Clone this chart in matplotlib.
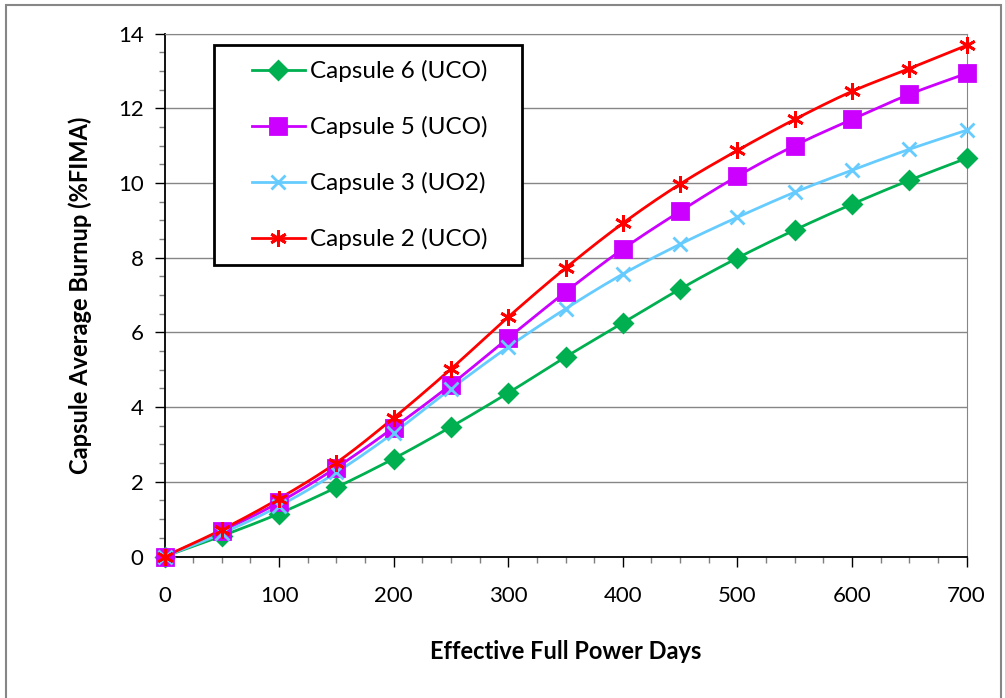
import numpy as np
import matplotlib
matplotlib.use("Agg")
import matplotlib.pyplot as plt
from matplotlib.patches import Rectangle
from matplotlib.ticker import MultipleLocator

plt.rcParams['font.family'] = ['Lato', 'DejaVu Sans']

# Effective full power days
days = [0, 50, 100, 150, 200, 250, 300, 350, 400, 450, 500, 550, 600, 650, 700]

# Capsule average burnup (%FIMA)
capsule6 = [0, 0.55, 1.15, 1.85, 2.62, 3.47, 4.38, 5.34, 6.25, 7.16, 7.99, 8.74, 9.43, 10.07, 10.66]
capsule5 = [0, 0.68, 1.45, 2.38, 3.45, 4.60, 5.85, 7.08, 8.23, 9.24, 10.18, 11.0, 11.70, 12.37, 12.93]
capsule3 = [0, 0.62, 1.35, 2.25, 3.31, 4.49, 5.61, 6.63, 7.56, 8.36, 9.08, 9.75, 10.34, 10.90, 11.41]
capsule2 = [0, 0.72, 1.55, 2.51, 3.71, 5.02, 6.41, 7.72, 8.92, 9.97, 10.87, 11.70, 12.45, 13.06, 13.68]

labels = ["Capsule 6 (UCO)", "Capsule 5 (UCO)", "Capsule 3 (UO2)", "Capsule 2 (UCO)"]


def smooth(x, y, n=12):
    """Catmull-Rom curve through the points, like Excel's smoothed line"""
    x = np.asarray(x, float)
    y = np.asarray(y, float)
    px = np.concatenate([[2 * x[0] - x[1]], x, [2 * x[-1] - x[-2]]])
    py = np.concatenate([[2 * y[0] - y[1]], y, [2 * y[-1] - y[-2]]])
    xs, ys = [], []
    t = np.linspace(0, 1, n, endpoint=False)
    for i in range(1, len(px) - 2):
        for p, out in ((px, xs), (py, ys)):
            p0, p1, p2, p3 = p[i - 1], p[i], p[i + 1], p[i + 2]
            out.extend(0.5 * ((2 * p1) + (-p0 + p2) * t
                              + (2 * p0 - 5 * p1 + 4 * p2 - p3) * t ** 2
                              + (-p0 + 3 * p1 - 3 * p2 + p3) * t ** 3))
    xs.append(x[-1])
    ys.append(y[-1])
    return xs, ys


W, H = 1005, 698
fig = plt.figure(figsize=(W / 100, H / 100), dpi=100)
ax = fig.add_axes([0.1637, 0.2027, 0.798, 0.7493])

series = [
    (capsule6, '#00B050', 'D', 9),
    (capsule5, '#CC00FF', 's', 11),
    (capsule3, '#66CCFF', 'x', 10),
    (capsule2, '#FF0000', (6, 2, 0), 12),
]

handles = []
for (vals, color, marker, ms), label in zip(series, labels):
    sx, sy = smooth(days, vals)
    ax.plot(sx, sy, color=color, lw=2, zorder=3)
    ax.plot(days, vals, ls='none', marker=marker, ms=ms, color=color,
            mec=color, mew=2, zorder=4, clip_on=False)
    h, = ax.plot([], [], color=color, lw=2, marker=marker, ms=ms, mec=color, mew=2)
    h.set_label(label)
    handles.append(h)

ax.set_xlim(0, 700)
ax.set_ylim(0, 14)
ax.xaxis.set_major_locator(MultipleLocator(100))
ax.xaxis.set_minor_locator(MultipleLocator(25))
ax.yaxis.set_major_locator(MultipleLocator(2))
ax.yaxis.set_minor_locator(MultipleLocator(0.5))
ax.tick_params(axis='both', which='major', direction='out', length=7, width=1,
               labelsize=16, color='black')
ax.tick_params(axis='both', which='minor', direction='out', length=4, width=1, color='#7f7f7f')
ax.tick_params(axis='x', pad=14)
ax.tick_params(axis='y', pad=8)
ax.grid(axis='y', which='major', color='#868686', lw=1)
ax.set_axisbelow(True)

for side in ['top', 'right']:
    ax.spines[side].set_color('#868686')
for side in ['left', 'bottom']:
    ax.spines[side].set_color('black')
    ax.spines[side].set_linewidth(1.3)

ax.set_xlabel("Effective Full Power Days", fontsize=17, fontweight='bold', labelpad=25)
ax.set_ylabel("Capsule Average Burnup (%FIMA)", fontsize=17, fontweight='bold', labelpad=19)

# legend box drawn by hand, legend entries placed inside without frame
fig.patches.append(Rectangle((214 / W, 1 - 265 / H), (522 - 214) / W, 220 / H,
                             transform=fig.transFigure, facecolor='white',
                             edgecolor='black', lw=2, zorder=5))
leg = fig.legend(handles=handles, loc='upper left',
                 bbox_to_anchor=(252 / W, 1 - 60 / H), bbox_transform=fig.transFigure,
                 fontsize=17.5, frameon=False, handlelength=2.18,
                 handletextpad=0.2, labelspacing=1.4, borderpad=0, borderaxespad=0)
leg.set_zorder(6)

# outer chart border
fig.patches.append(Rectangle((6 / W, -0.05), 0.99, 1 - 5 / H + 0.05,
                             transform=fig.transFigure, fill=False,
                             edgecolor='#868686', lw=1.5))

fig.savefig("out.png", dpi=100)
